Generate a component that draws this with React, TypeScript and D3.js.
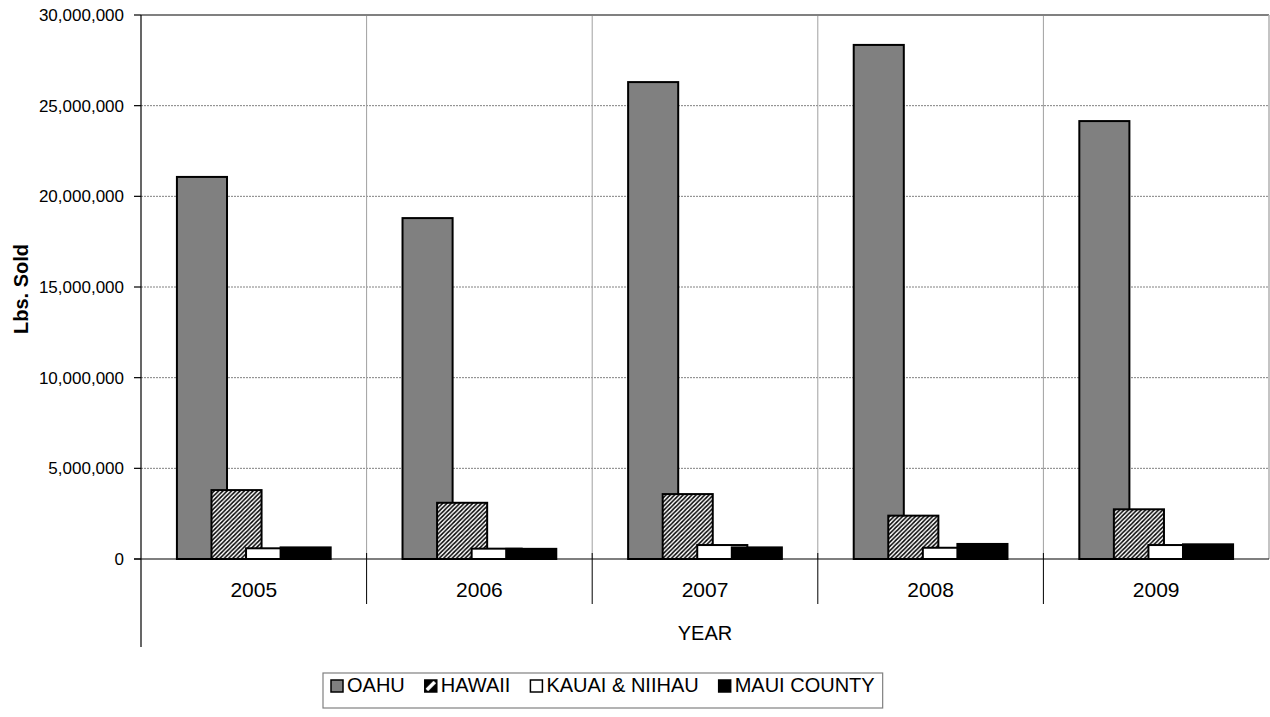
import React from 'react'
import * as d3 from 'd3'

const years = ['2005', '2006', '2007', '2008', '2009']
const oahu = [21070000, 18800000, 26300000, 28350000, 24150000]
const hawaii = [3800000, 3100000, 3580000, 2390000, 2740000]
const kauai = [590000, 570000, 770000, 620000, 770000]
const maui = [640000, 560000, 640000, 830000, 810000]
const seriesNames = ['OAHU', 'HAWAII', 'KAUAI & NIIHAU', 'MAUI COUNTY']
const yTicks = [0, 5000000, 10000000, 15000000, 20000000, 25000000, 30000000]

const FONT = '"Liberation Sans", Arial, sans-serif'
const fills = ['#808080', 'url(#hatch)', '#ffffff', '#000000']

const W = 1270
const H = 717
const plot = { left: 141, top: 15, right: 1269, bottom: 559 }

function textWidth(text: string, size: number) {
  const ctx = document.createElement('canvas').getContext('2d')
  if (!ctx) return text.length * size * 0.6
  ctx.font = `${size}px "Liberation Sans", Arial, sans-serif`
  return ctx.measureText(text).width
}

export default function App() {
  const x = d3.scaleBand().domain(years).range([plot.left, plot.right]).padding(0)
  const y = d3.scaleLinear().domain([0, 30000000]).range([plot.bottom, plot.top])
  const fmt = d3.format(',')

  const bw = x.bandwidth()
  const barW = bw * 0.222
  const step = barW * 0.69
  const span = barW + step * 3
  const offset = (bw - span) / 2
  const allSeries = [oahu, hawaii, kauai, maui]

  // legend layout
  const legendSize = 20
  const sw = 12
  let lx = 331
  const legendItems = seriesNames.map((name, i) => {
    const item = { name, i, sx: lx, tx: lx + sw + 4 }
    lx = item.tx + textWidth(name, legendSize) + 20
    return item
  })
  const legendRight = lx - 20 + 8

  return (
    <svg width={W} height={H} style={{ position: 'absolute', left: 0, top: 0, background: '#fff' }}>
      <defs>
        <pattern id='hatch' patternUnits='userSpaceOnUse' width={4.3} height={4.3}>
          <rect width={4.3} height={4.3} fill='#fff' />
          <path d='M-1,1 l2,-2 M0,4.3 l4.3,-4.3 M3.3,5.3 l2,-2' stroke='#000' strokeWidth={1.5} />
        </pattern>
        <pattern id='hatchSmall' patternUnits='userSpaceOnUse' x={0} y={0} width={12} height={12}>
          <rect width={12} height={12} fill='#000' />
          <path d='M2,10 L10,2' stroke='#fff' strokeWidth={3.5} />
        </pattern>
      </defs>

      {/* horizontal gridlines */}
      {yTicks.slice(1, -1).map((t) => (
        <line key={`g${t}`} x1={plot.left} x2={plot.right} y1={y(t)} y2={y(t)} stroke='#808080' strokeWidth={1} strokeDasharray='2,1' />
      ))}
      {/* vertical gridlines */}
      {years.slice(1).map((yr) => (
        <line key={`v${yr}`} x1={x(yr)} x2={x(yr)} y1={plot.top} y2={plot.bottom} stroke='#a0a0a0' strokeWidth={1} />
      ))}
      <line x1={plot.left} x2={plot.right} y1={plot.top} y2={plot.top} stroke='#808080' strokeWidth={2} />
      <line x1={plot.right} x2={plot.right} y1={plot.top} y2={plot.bottom} stroke='#b0b0b0' strokeWidth={1.5} />

      {/* bars */}
      {allSeries.map((vals, si) =>
        years.map((yr, ci) => (
          <rect
            key={`b${si}-${ci}`}
            x={(x(yr) || 0) + offset + step * si}
            y={y(vals[ci])}
            width={barW}
            height={plot.bottom - y(vals[ci])}
            fill={fills[si]}
            stroke='#000'
            strokeWidth={2}
          />
        ))
      )}

      {/* axes */}
      <line x1={plot.left - 7} x2={plot.right} y1={plot.bottom} y2={plot.bottom} stroke='#000' strokeWidth={1.2} />
      <line x1={plot.left} x2={plot.left} y1={plot.top} y2={647} stroke='#000' strokeWidth={1.2} />
      {years.slice(1).map((yr) => (
        <line key={`t${yr}`} x1={x(yr)} x2={x(yr)} y1={553} y2={604} stroke='#000' strokeWidth={1} />
      ))}
      {yTicks.map((t) => (
        <g key={`yt${t}`}>
          <line x1={plot.left - 7} x2={plot.left} y1={y(t)} y2={y(t)} stroke='#000' strokeWidth={1.2} />
          <text x={124} y={y(t)} dy='0.36em' textAnchor='end' fontFamily={FONT} fontSize={17} fill='#000'>
            {fmt(t)}
          </text>
        </g>
      ))}
      {years.map((yr) => (
        <text key={`xl${yr}`} x={(x(yr) || 0) + bw / 2} y={597} textAnchor='middle' fontFamily={FONT} fontSize={21} fill='#000'>
          {yr}
        </text>
      ))}
      <text x={(plot.left + plot.right) / 2} y={640} textAnchor='middle' fontFamily={FONT} fontSize={20} fill='#000'>
        YEAR
      </text>
      <text
        transform={`translate(28, 289) rotate(-90)`}
        textAnchor='middle'
        fontFamily={FONT}
        fontSize={20}
        fontWeight='bold'
        fill='#000'
      >
        Lbs. Sold
      </text>

      {/* legend */}
      <rect x={323} y={673} width={legendRight - 323} height={35} fill='#fff' stroke='#808080' strokeWidth={1.2} />
      {legendItems.map((it) => (
        <g key={`lg${it.i}`}>
          {it.i === 1 ? (
            <g transform={`translate(${it.sx}, 680)`}>
              <rect width={sw} height={sw} fill='url(#hatchSmall)' stroke='#000' strokeWidth={1.5} />
            </g>
          ) : (
            <rect x={it.sx} y={680} width={sw} height={sw} fill={fills[it.i]} stroke='#000' strokeWidth={1.5} />
          )}
          <text x={it.tx} y={692} fontFamily={FONT} fontSize={legendSize} fill='#000'>
            {it.name}
          </text>
        </g>
      ))}
    </svg>
  )
}
